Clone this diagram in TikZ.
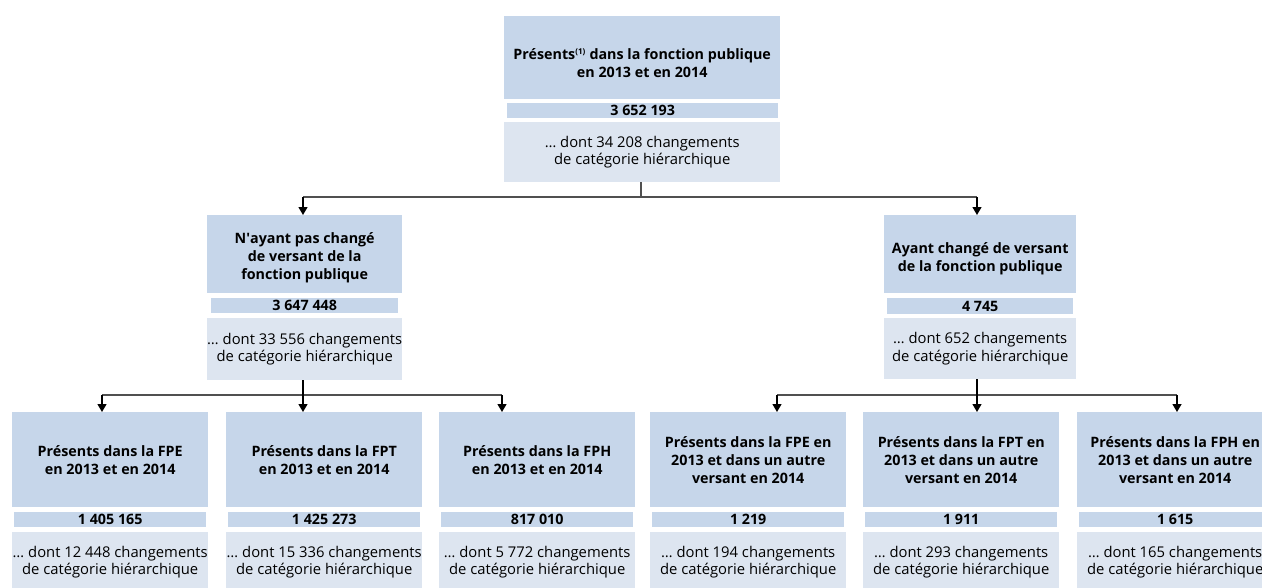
\documentclass[tikz,border=0pt]{standalone}
\usepackage{fontspec}
\setmainfont{Open Sans}
\usetikzlibrary{arrows.meta}
\definecolor{boxdark}{RGB}{198,214,234}
\definecolor{boxlight}{RGB}{221,229,240}
\definecolor{busgray}{RGB}{80,80,80}
\newcommand{\lowr}[1]{\rule{0pt}{#1}}
\begin{document}
\begin{tikzpicture}[x=1pt,y=-1pt,
  base/.style={draw=none, anchor=north west, inner sep=0pt, align=center, text=black},
  dk/.style={base, fill=boxdark, font=\fontsize{14.3}{18}\selectfont\bfseries},
  nb/.style={base, fill=boxdark, font=\fontsize{14.3}{15}\selectfont\bfseries},
  lt/.style={base, fill=boxlight, font=\fontsize{14.8}{17.5}\selectfont},
  bus/.style={draw=busgray, line width=1.3pt},
  stem/.style={draw=black, line width=1.3pt},
  arr/.style={stem, -{Triangle[width=9pt,length=8pt]}}]
\useasboundingbox (0,0) rectangle (1262,587);
\clip (0,0) rectangle (1262,587);

% top
\node[dk, minimum width=276pt, minimum height=83pt] (t) at (504,16) {\lowr{22pt}Présents\textsuperscript{\fontsize{8}{8}\selectfont(1)} dans la fonction publique\\en 2013 et en 2014};
\node[nb, minimum width=271pt, minimum height=15pt] (tn) at (507,103) {3 652 193};
\node[lt, minimum width=276pt, minimum height=60pt] (tl) at (504,122) {… dont 34 208 changements\\de catégorie hiérarchique};

% middle left
\node[dk, minimum width=195pt, minimum height=78pt] (ml) at (207,215) {\lowr{18pt}N\textquotesingle ayant pas changé\\de versant de la\\fonction publique};
\node[nb, minimum width=187pt, minimum height=15pt] (mln) at (211,298) {3 647 448};
\node[lt, minimum width=195pt, minimum height=62pt] (mll) at (207,318) {… dont 33 556 changements\\de catégorie hiérarchique};

% middle right
\node[dk, minimum width=192pt, minimum height=78pt] (mr) at (884,215) {\lowr{21pt}Ayant changé de versant\\de la fonction publique};
\node[nb, minimum width=186pt, minimum height=16pt] (mrn) at (887,298) {4 745};
\node[lt, minimum width=192pt, minimum height=61pt] (mrl) at (884,318) {… dont 652 changements\\de catégorie hiérarchique};

% bottom row
\node[dk, minimum width=196pt, minimum height=95pt] (b1) at (12,412) {Présents dans la FPE\\en 2013 et en 2014};
\node[nb, minimum width=192pt, minimum height=15pt] (b1n) at (14,512) {1 405 165};
\node[lt, minimum width=196pt, minimum height=60pt] (b1l) at (12,532) {… dont 12 448 changements\\de catégorie hiérarchique};

\node[dk, minimum width=196pt, minimum height=95pt] (b2) at (226,412) {Présents dans la FPT\\en 2013 et en 2014};
\node[nb, minimum width=192pt, minimum height=15pt] (b2n) at (228,512) {1 425 273};
\node[lt, minimum width=196pt, minimum height=60pt] (b2l) at (226,532) {… dont 15 336 changements\\de catégorie hiérarchique};

\node[dk, minimum width=196pt, minimum height=95pt] (b3) at (439,412) {Présents dans la FPH\\en 2013 et en 2014};
\node[nb, minimum width=192pt, minimum height=15pt] (b3n) at (441,512) {817 010};
\node[lt, minimum width=196pt, minimum height=60pt] (b3l) at (439,532) {… dont 5 772 changements\\de catégorie hiérarchique};

\node[dk, minimum width=196pt, minimum height=95pt] (b4) at (650,412) {Présents dans la FPE en\\2013 et dans un autre\\versant en 2014};
\node[nb, minimum width=192pt, minimum height=15pt] (b4n) at (652,512) {1 219};
\node[lt, minimum width=196pt, minimum height=60pt] (b4l) at (650,532) {… dont 194 changements\\de catégorie hiérarchique};

\node[dk, minimum width=196pt, minimum height=95pt] (b5) at (863,412) {Présents dans la FPT en\\2013 et dans un autre\\versant en 2014};
\node[nb, minimum width=192pt, minimum height=15pt] (b5n) at (865,512) {1 911};
\node[lt, minimum width=196pt, minimum height=60pt] (b5l) at (863,532) {… dont 293 changements\\de catégorie hiérarchique};

\node[dk, minimum width=196pt, minimum height=95pt] (b6) at (1077,412) {Présents dans la FPH en\\2013 et dans un autre\\versant en 2014};
\node[nb, minimum width=192pt, minimum height=15pt] (b6n) at (1079,512) {1 615};
\node[lt, minimum width=196pt, minimum height=60pt] (b6l) at (1077,532) {… dont 165 changements\\de catégorie hiérarchique};

% connectors
\coordinate (tj) at (641,197);
\coordinate (tjl) at (303,197);
\coordinate (tjr) at (977,197);
\draw[bus] (tl.south -| tj) -- (tj);
\draw[bus] (tjl) -- (tjr);
\draw[arr] (tjl) -- (tjl |- ml.north);
\draw[arr] (tjr) -- (tjr |- mr.north);

\coordinate (lj) at (303,395);
\coordinate (lj1) at (102,395);
\coordinate (lj3) at (502,395);
\draw[bus] (lj1) -- (lj3);
\draw[arr] (mll.south -| lj) -- (lj |- b2.north);
\draw[arr] (lj1) -- (lj1 |- b1.north);
\draw[arr] (lj3) -- (lj3 |- b3.north);

\coordinate (rj) at (977,395);
\coordinate (rj1) at (777,395);
\coordinate (rj3) at (1177,395);
\draw[bus] (rj1) -- (rj3);
\draw[arr] (mrl.south -| rj) -- (rj |- b5.north);
\draw[arr] (rj1) -- (rj1 |- b4.north);
\draw[arr] (rj3) -- (rj3 |- b6.north);
\end{tikzpicture}
\end{document}
